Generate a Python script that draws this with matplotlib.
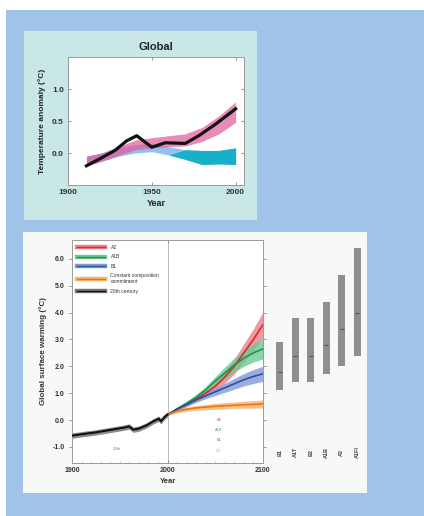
import numpy as np
import matplotlib.pyplot as plt
from matplotlib.patches import Rectangle
from matplotlib.lines import Line2D

plt.rcParams['font.family'] = ['Liberation Sans', 'DejaVu Sans']

# ---------------------------------------------------------------------------
# Data: top panel (global temperature anomaly, observed vs. models)
# ---------------------------------------------------------------------------
obs_years = [1911, 1919, 1928, 1935, 1941, 1950, 1958, 1970, 1978, 1988, 2000]
obs_anom = [-0.20, -0.09, 0.04, 0.19, 0.27, 0.09, 0.16, 0.15, 0.27, 0.45, 0.69]

band_years = [1911, 1920, 1930, 1940, 1950, 1960, 1970, 1980, 1990, 2000]
nat_anth_lo = [-0.20, -0.13, -0.04, 0.05, 0.08, 0.10, 0.11, 0.18, 0.30, 0.48]
nat_anth_hi = [-0.05, 0.00, 0.10, 0.20, 0.24, 0.27, 0.30, 0.40, 0.58, 0.80]
nat_lo = [-0.20, -0.13, -0.05, 0.00, 0.02, -0.03, -0.10, -0.18, -0.17, -0.18]
nat_hi = [-0.05, 0.00, 0.08, 0.13, 0.15, 0.10, 0.05, 0.04, 0.04, 0.08]

# ---------------------------------------------------------------------------
# Data: bottom panel (projected global surface warming)
# ---------------------------------------------------------------------------
hist_years = [1900, 1912, 1925, 1940, 1955, 1960, 1964, 1970, 1978, 1985, 1991, 1993, 1997, 2000]
hist_mean = [-0.58, -0.52, -0.46, -0.37, -0.28, -0.24, -0.36, -0.32, -0.20, -0.05, 0.05, -0.05, 0.12, 0.20]
hist_spread = [0.10, 0.10, 0.10, 0.10, 0.10, 0.10, 0.10, 0.10, 0.10, 0.10, 0.10, 0.10, 0.10, 0.10]

proj_years = [2000, 2010, 2020, 2030, 2040, 2050, 2060, 2070, 2080, 2090, 2100]
a2_mean = [0.20, 0.40, 0.58, 0.78, 1.00, 1.25, 1.60, 2.00, 2.50, 3.00, 3.55]
a2_spread = [0.03, 0.06, 0.08, 0.10, 0.13, 0.17, 0.22, 0.28, 0.34, 0.40, 0.48]
a1b_mean = [0.20, 0.42, 0.62, 0.85, 1.12, 1.45, 1.75, 2.05, 2.30, 2.50, 2.65]
a1b_spread = [0.03, 0.06, 0.08, 0.10, 0.13, 0.17, 0.22, 0.26, 0.30, 0.34, 0.38]
b1_mean = [0.20, 0.40, 0.58, 0.75, 0.90, 1.05, 1.20, 1.35, 1.50, 1.62, 1.72]
b1_spread = [0.03, 0.05, 0.07, 0.09, 0.11, 0.14, 0.17, 0.20, 0.23, 0.26, 0.28]
cc_mean = [0.20, 0.33, 0.40, 0.45, 0.48, 0.51, 0.53, 0.55, 0.57, 0.58, 0.60]
cc_spread = [0.03, 0.06, 0.08, 0.09, 0.10, 0.11, 0.12, 0.12, 0.13, 0.14, 0.15]

# likely ranges at 2090-2099 per scenario
bar_labels = ["B1", "A1T", "B2", "A1B", "A2", "A1FI"]
bar_low = [1.1, 1.4, 1.4, 1.7, 2.0, 2.4]
bar_high = [2.9, 3.8, 3.8, 4.4, 5.4, 6.4]
bar_best = [1.8, 2.4, 2.4, 2.8, 3.4, 4.0]

# ---------------------------------------------------------------------------
# Figure and background panels
# ---------------------------------------------------------------------------
W, H = 424, 516
fig = plt.figure(figsize=(W / 100, H / 100), dpi=100)
fig.patch.set_facecolor('white')


def fig_rect(x0, y0, x1, y1, color):
    # pixel box (top-left origin) -> figure fraction rectangle
    fig.add_artist(Rectangle((x0 / W, 1 - y1 / H), (x1 - x0) / W, (y1 - y0) / H,
                             transform=fig.transFigure, color=color, zorder=0, lw=0))


fig_rect(6, 10, W, H, '#9fc4e8')
fig_rect(24, 31, 257, 220, '#c8e7e6')
fig_rect(23, 232, 367, 493, '#f6f9f7')


def px_axes(x0, y0, x1, y1):
    return fig.add_axes([x0 / W, 1 - y1 / H, (x1 - x0) / W, (y1 - y0) / H])


# ---------------------------------------------------------------------------
# Top panel
# ---------------------------------------------------------------------------
ax1 = px_axes(68, 57, 244, 185)
ax1.set_facecolor('white')
bands = np.array(band_years)
ax1.fill_between(band_years, nat_lo, nat_hi, color='#7fb6ea', alpha=0.85, lw=0, zorder=1)
ax1.fill_between(band_years, nat_lo, nat_hi, where=bands >= 1965, interpolate=True,
                 color='#12b0c6', alpha=0.95, lw=0, zorder=1)
ax1.fill_between(band_years, nat_anth_lo, nat_anth_hi, color='#e2589a', alpha=0.7, lw=0, zorder=2)
ax1.plot(obs_years, obs_anom, color='#111111', lw=2.3, zorder=3)
ax1.set_xlim(1900, 2005)
ax1.set_ylim(-0.5, 1.5)
ax1.set_xticks([1900, 1950, 2000])
ax1.set_yticks([0.0, 0.5, 1.0])
ax1.set_yticklabels(["0.0", "0.5", "1.0"])
ax1.tick_params(direction='in', length=2.5, width=0.6, color='#888888',
                labelsize=6, labelcolor='#333333', top=True, right=True, pad=3)
for lab in ax1.get_xticklabels() + ax1.get_yticklabels():
    lab.set_fontweight('bold')
for s in ax1.spines.values():
    s.set_color('#9a9a9a')
    s.set_linewidth(0.7)
ax1.set_title("Global", fontsize=8, fontweight='bold', color='#222222', pad=5)
ax1.set_xlabel("Year", fontsize=6.5, fontweight='bold', color='#222222', labelpad=2)
ax1.set_ylabel("Temperature anomaly (°C)", fontsize=6, fontweight='bold', color='#222222', labelpad=4)

# ---------------------------------------------------------------------------
# Bottom panel
# ---------------------------------------------------------------------------
ax2 = px_axes(72, 240, 263, 463)
ax2.set_facecolor('white')
ax2.axvline(2000, color='#b0b0b0', lw=0.6, zorder=1)

scenarios = [
    ("A2", a2_mean, a2_spread, '#d42a35', '#ee8088'),
    ("A1B", a1b_mean, a1b_spread, '#1f9450', '#6cca92'),
    ("B1", b1_mean, b1_spread, '#24539e', '#8199d6'),
    ("Constant composition\ncommitment", cc_mean, cc_spread, '#ec7416', '#f9b36c'),
]
handles = []
for name, mean, spread, line_c, band_c in scenarios:
    m = np.array(mean)
    s = np.array(spread)
    ax2.fill_between(proj_years, m - s, m + s, color=band_c, alpha=0.8, lw=0, zorder=2)
    ax2.plot(proj_years, m, color=line_c, lw=1.2, zorder=3)
    handles.append((Line2D([], [], color=band_c, lw=3.2), Line2D([], [], color=line_c, lw=0.9)))

hm = np.array(hist_mean)
hs = np.array(hist_spread)
ax2.fill_between(hist_years, hm - hs, hm + hs, color='#666666', alpha=0.75, lw=0, zorder=2)
ax2.plot(hist_years, hist_mean, color='#111111', lw=1.5, zorder=4)
handles.append((Line2D([], [], color='#777777', lw=3.2), Line2D([], [], color='#111111', lw=0.9)))

ax2.legend(handles, [s[0] for s in scenarios] + ["20th century"], loc='upper left',
           fontsize=3.6, frameon=False, handlelength=5.5, handletextpad=1.2,
           labelspacing=0.9, borderaxespad=0.6, labelcolor='#333333')

# small scenario markers near the bottom of the plot
for i, (name, mean, spread, line_c, band_c) in enumerate(scenarios):
    ax2.text(2054, 0.0 - 0.38 * i, name.split()[0][:3] if i < 3 else "CC",
             fontsize=2.8, color=line_c, ha='center', va='center', alpha=0.8)
ax2.text(1947, -1.08, "20th", fontsize=3, color='#777777', ha='center', va='center')

ax2.set_xlim(1900, 2100)
ax2.set_ylim(-1.6, 6.7)
ax2.set_xticks([1900, 2000, 2100])
ax2.set_xticks(np.arange(1910, 2100, 10), minor=True)
ax2.set_yticks([-1.0, 0.0, 1.0, 2.0, 3.0, 4.0, 5.0, 6.0])
ax2.set_yticklabels(["-1.0", "0.0", "1.0", "2.0", "3.0", "4.0", "5.0", "6.0"])
ax2.tick_params(direction='out', length=2.5, width=0.6, color='#888888',
                labelsize=5, labelcolor='#333333', right=True, pad=3)
ax2.tick_params(axis='x', direction='in', top=True)
ax2.tick_params(axis='x', which='minor', direction='in', length=1.5, width=0.5, color='#aaaaaa')
for lab in ax2.get_xticklabels() + ax2.get_yticklabels():
    lab.set_fontweight('bold')
for s in ax2.spines.values():
    s.set_color('#9a9a9a')
    s.set_linewidth(0.7)
ax2.set_xlabel("Year", fontsize=5.5, fontweight='bold', color='#333333', labelpad=3)
ax2.set_ylabel("Global surface warming (°C)", fontsize=5.8, fontweight='bold',
               color='#333333', labelpad=4)

# likely-range bars to the right of the plot
ax3 = px_axes(272, 240, 365, 463)
ax3.set_xlim(-0.5, 5.5)
ax3.set_ylim(-1.6, 6.7)
ax3.axis('off')
xb = np.arange(len(bar_labels))
ax3.bar(xb, np.array(bar_high) - np.array(bar_low), bottom=bar_low, width=0.42,
        color='#8f8f8f', edgecolor='none')
ax3.scatter(xb, bar_best, marker='_', s=12, color='#555555', lw=0.8, zorder=3)
for x, lab in zip(xb, bar_labels):
    ax3.text(x, -1.2, lab, rotation=90, fontsize=4, fontweight='bold',
             color='#444444', ha='center', va='center')

fig.savefig("out.png", dpi=100, facecolor=fig.get_facecolor())
